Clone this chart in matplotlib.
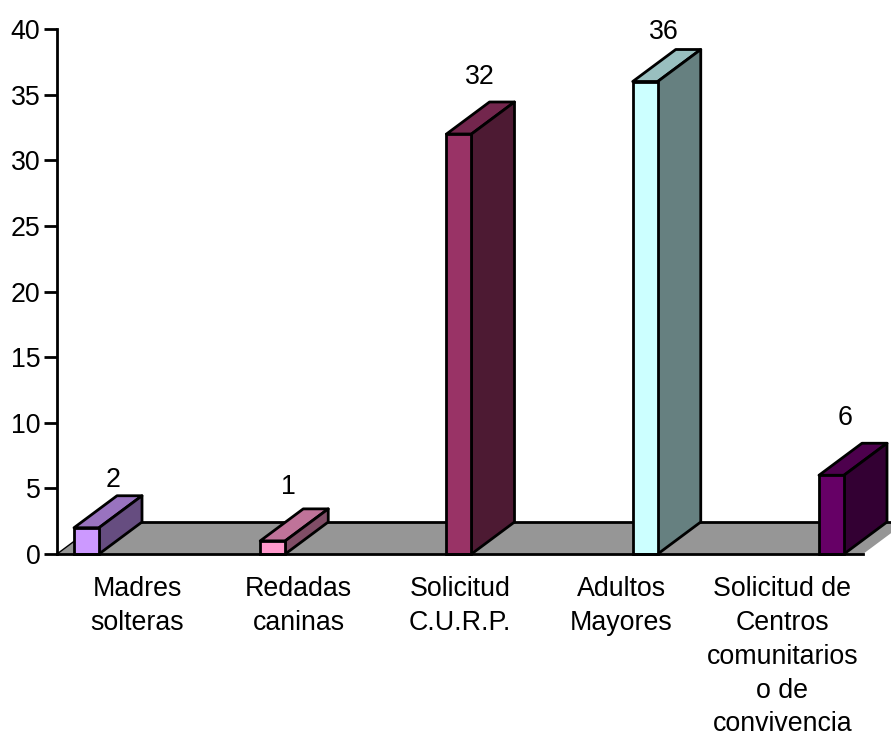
import matplotlib
matplotlib.use('Agg')
import matplotlib.pyplot as plt

plt.rcParams['font.family'] = ['Liberation Sans', 'DejaVu Sans']

categories = ['Madres\nsolteras', 'Redadas\ncaninas', 'Solicitud\nC.U.R.P.',
              'Adultos\nMayores', 'Solicitud de\nCentros\ncomunitarios\no de\nconvivencia']
values = [2, 1, 32, 36, 6]
front_colors = ['#CC99FF', '#FF99CC', '#993366', '#CCFFFF', '#660066']
top_colors = ['#9973BF', '#BF7399', '#73264D', '#99BFBF', '#4D004D']
side_colors = ['#664D80', '#804D66', '#4D1A33', '#668080', '#330033']
yticks = [0, 5, 10, 15, 20, 25, 30, 35, 40]

# value label offsets from the top of each bar, pixels
label_offsets = [(26.5, 47.5), (15.5, 53.5), (20.5, 56.5), (18.5, 49.5), (13.5, 57.5)]

W, H = 891, 735
FONT = 19.3
fig = plt.figure(figsize=(W / 100, H / 100), dpi=100)
ax = fig.add_axes([57 / W, 1 - 554 / H, 806 / W, 525 / H])

x_per_px = 1 / 186.25
ax.set_xlim((57 - 86.5) * x_per_px, (863 - 86.5) * x_per_px)
ax.set_ylim(0, 40)

bar_w = 25 * x_per_px
depth_x = 43 * x_per_px
depth_y = 32 / 13.125
lw = 2.0
x0, x1 = ax.get_xlim()

# floor
ax.fill([x0, x0 + depth_x, x1 + depth_x, x1], [0, depth_y, depth_y, 0],
        color='#969696', lw=0, zorder=1, clip_on=False)
ax.plot([x0 + depth_x, x1 + depth_x], [depth_y, depth_y], color='black', lw=lw,
        zorder=1.5, clip_on=False)
ax.plot([x0, x0 + depth_x], [0, depth_y], color='black', lw=1, zorder=1.5, clip_on=False)

for i, v in enumerate(values):
    left = i - bar_w / 2
    right = i + bar_w / 2
    ax.fill([left, right, right + depth_x, left + depth_x], [v, v, v + depth_y, v + depth_y],
            facecolor=top_colors[i], edgecolor='black', lw=lw, joinstyle='round',
            zorder=3, clip_on=False)
    ax.fill([right, right + depth_x, right + depth_x, right], [0, depth_y, v + depth_y, v],
            facecolor=side_colors[i], edgecolor='black', lw=lw, joinstyle='round',
            zorder=3, clip_on=False)
    ax.bar(i, v, width=bar_w, color=front_colors[i], edgecolor='black', linewidth=lw,
           zorder=4, clip_on=False)
    dx, dy = label_offsets[i]
    ax.annotate(str(v), (i, v), xytext=(dx * 0.72, dy * 0.72), textcoords='offset points',
                ha='center', va='center', fontsize=FONT, color='black')

for s in ['top', 'right']:
    ax.spines[s].set_visible(False)
for s in ['left', 'bottom']:
    ax.spines[s].set_linewidth(lw)
    ax.spines[s].set_zorder(5)

ax.set_yticks(yticks)
ax.tick_params(axis='y', length=9.4, width=lw, labelsize=FONT, pad=2.5)
ax.set_xticks([])

# category labels sit in equal slots along the axis
for i, name in enumerate(categories):
    ax.text((i + 0.5) / len(categories), -0.0423, name, transform=ax.transAxes,
            ha='center', va='top', fontsize=FONT, linespacing=1.39, color='black')

fig.savefig('out.png', dpi=100)
plt.close(fig)
